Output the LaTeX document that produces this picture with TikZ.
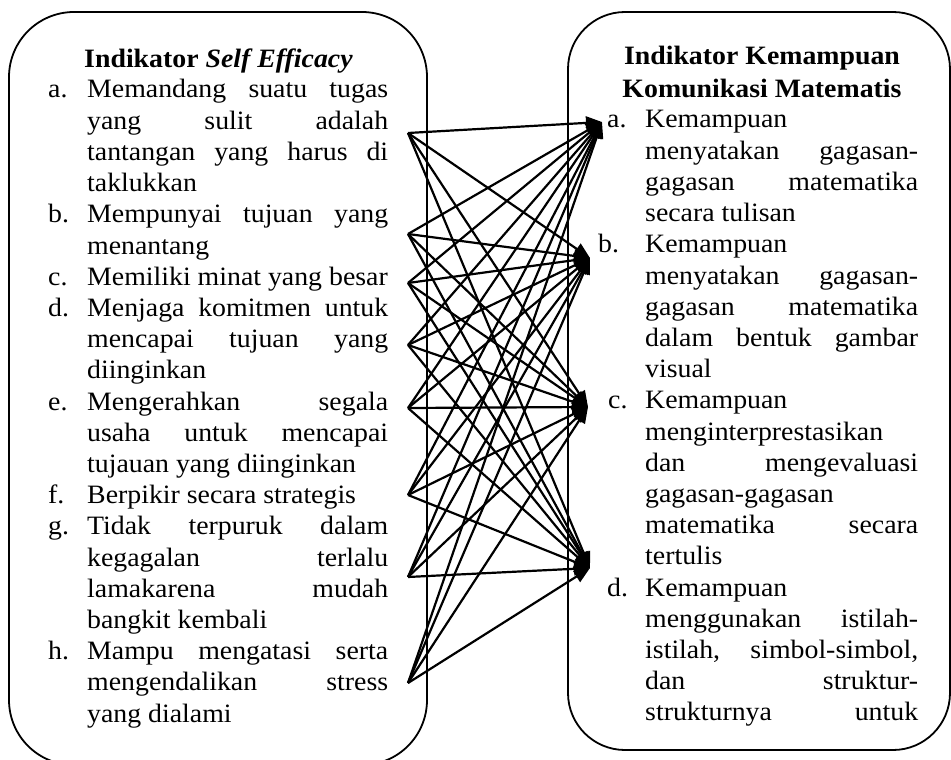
\documentclass[tikz,border=0pt]{standalone}
\usepackage{fontspec}
\setmainfont[FakeStretch=1.05]{Liberation Serif}
\usetikzlibrary{arrows.meta}
\newcommand{\jl}[2]{\hbox to #1{#2}}
\newcommand{\pl}[1]{\hbox{#1}}
\begin{document}
\begin{tikzpicture}[x=1pt,y=-1pt,
  panel/.style={draw=black,line width=1.8pt,rounded corners=#1},
  txt/.style={inner sep=0pt,anchor=base west,font=\fontsize{26.5}{31.2}\selectfont},
  lbl/.style={inner sep=0pt,anchor=base west,font=\fontsize{26.5}{31.2}\selectfont},
  ttl/.style={inner sep=0pt,anchor=base,font=\fontsize{26.5}{31.2}\selectfont\bfseries},
  arr/.style={line width=2.2pt,-{Triangle[length=16pt,width=13pt]}}]
\useasboundingbox (0,0) rectangle (951,760);
\clip (0,0) rectangle (951,760);
\fill[white] (0,0) rectangle (951,760);
% panels
\draw[panel=65pt] (9,12) rectangle (427,765);
\draw[panel=57pt] (568,12) rectangle (950,750);
% left titles and items
\node[ttl] (lt) at (218.5,67) {Indikator \textit{Self Efficacy}};
\node[lbl] (la) at (48,98) {a.};
\node[txt] (lat) at (87,98) {\vtop{\jl{301pt}{Memandang suatu tugas}\jl{301pt}{yang sulit adalah}\jl{301pt}{tantangan yang harus di}\pl{taklukkan}}};
\node[lbl] (lb) at (48,222.8) {b.};
\node[txt] (lbt) at (87,222.8) {\vtop{\jl{301pt}{Mempunyai tujuan yang}\pl{menantang}}};
\node[lbl] (lc) at (48,285.2) {c.};
\node[txt] (lct) at (87,285.2) {Memiliki minat yang besar};
\node[lbl] (ld) at (48,316.4) {d.};
\node[txt] (ldt) at (87,316.4) {\vtop{\jl{301pt}{Menjaga komitmen untuk}\jl{301pt}{mencapai tujuan yang}\pl{diinginkan}}};
\node[lbl] (le) at (48,410) {e.};
\node[txt] (let) at (87,410) {\vtop{\jl{301pt}{Mengerahkan segala}\jl{301pt}{usaha untuk mencapai}\pl{tujauan yang diinginkan}}};
\node[lbl] (lf) at (48,503.6) {f.};
\node[txt] (lft) at (87,503.6) {Berpikir secara strategis};
\node[lbl] (lg) at (48,534.8) {g.};
\node[txt] (lgt) at (87,534.8) {\vtop{\jl{301pt}{Tidak terpuruk dalam}\jl{301pt}{kegagalan terlalu}\jl{301pt}{lamakarena mudah}\pl{bangkit kembali}}};
\node[lbl] (lh) at (48,659.6) {h.};
\node[txt] (lht) at (87,659.6) {\vtop{\jl{301pt}{Mampu mengatasi serta}\jl{301pt}{mengendalikan stress}\pl{yang dialami}}};
% right titles and items
\node[ttl] (rt1) at (762,65) {Indikator Kemampuan};
\node[ttl] (rt2) at (762,97) {Komunikasi Matematis};
\node[lbl] (ra) at (607,128) {a.};
\node[txt] (rat) at (645,128) {\vtop{\pl{Kemampuan}\jl{273pt}{menyatakan gagasan-}\jl{273pt}{gagasan matematika}\pl{secara tulisan}}};
\node[lbl] (rb) at (598,252.8) {b.};
\node[txt] (rbt) at (645,252.8) {\vtop{\pl{Kemampuan}\jl{273pt}{menyatakan gagasan-}\jl{273pt}{gagasan matematika}\jl{273pt}{dalam bentuk gambar}\pl{visual}}};
\node[lbl] (rc) at (608,408.8) {c.};
\node[txt] (rct) at (645,408.8) {\vtop{\pl{Kemampuan}\pl{menginterprestasikan}\jl{273pt}{dan mengevaluasi}\pl{gagasan-gagasan}\jl{273pt}{matematika secara}\pl{tertulis}}};
\node[lbl] (rd) at (607,596) {d.};
\node[txt] (rdt) at (645,596) {\vtop{\pl{Kemampuan}\jl{273pt}{menggunakan istilah-}\jl{273pt}{istilah, simbol-simbol,}\jl{273pt}{dan struktur-}\jl{273pt}{strukturnya untuk}}};
% connector ends
\coordinate (sa) at (408,133);
\coordinate (sb) at (408,234);
\coordinate (sc) at (408,283);
\coordinate (sd) at (408,345);
\coordinate (se) at (408,408);
\coordinate (sf) at (408,495);
\coordinate (sg) at (408,577);
\coordinate (sh) at (408,683);
\coordinate (ta) at (602,122);
\coordinate (tb) at (590,258);
\coordinate (tc) at (588,407);
\coordinate (td) at (590,568);
\foreach \s in {sa,sb,sc,sd,se,sf,sg,sh}{
  \foreach \t in {ta,tb,tc,td}{
    \draw[arr] (\s) -- (\t);
  }
}
\end{tikzpicture}
\end{document}
